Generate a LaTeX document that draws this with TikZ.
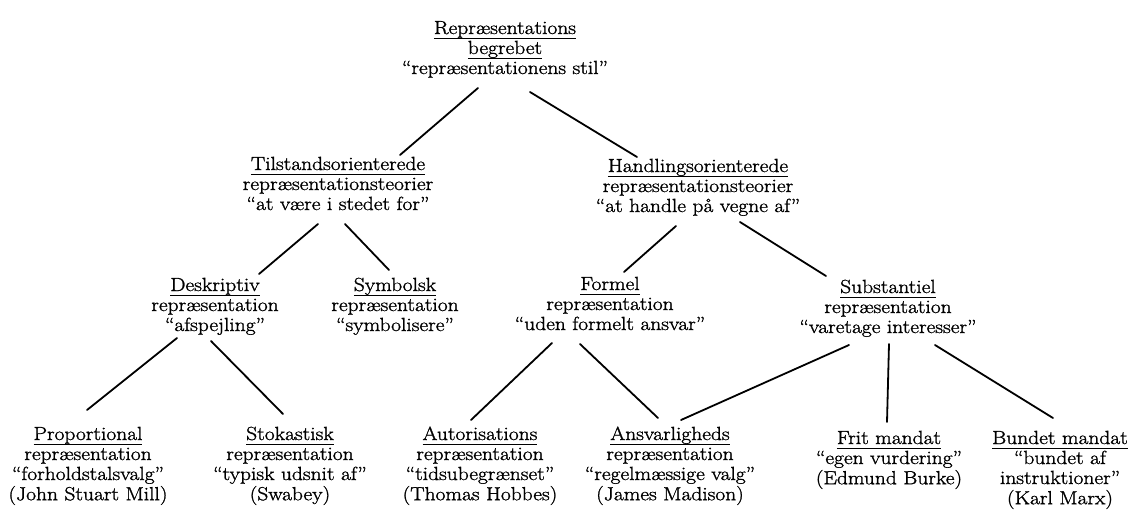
\documentclass[tikz,border=0pt]{standalone}
\usepackage{fontspec}
\setmainfont{Latin Modern Roman}[FakeStretch=1.13, FakeBold=1.3]
\usetikzlibrary{calc}
\newcommand\mytab[1]{\begin{tabular}[t]{@{}c@{}}#1\end{tabular}}
\newcommand\myul[1]{\setbox0=\hbox{#1}\rlap{\rule[-5pt]{\wd0}{1.3pt}}\box0}
\tikzset{
  lbl/.style={anchor=base, inner sep=0pt, font=\fontsize{19}{20}\selectfont},
  conn/.style={line width=1.8pt, line cap=round}
}
\begin{document}
\begin{tikzpicture}[x=1pt,y=-1pt]
\useasboundingbox (0,0) rectangle (1130,509);
\fill[white] (0,0) rectangle (1130,509);

\node[lbl] (top) at (505,34) {\mytab{\myul{Repræsentations}\\ \myul{begrebet}\\ “repræsentationens stil”}};
\node[lbl] (til) at (338,170) {\mytab{\myul{Tilstandsorienterede}\\ repræsentationsteorier\\ “at være i stedet for”}};
\node[lbl] (han) at (698,172) {\mytab{\myul{Handlingsorienterede}\\ repræsentationsteorier\\ “at handle på vegne af”}};
\node[lbl] (des) at (215,291) {\mytab{\myul{Deskriptiv}\\ repræsentation\\ “afspejling”}};
\node[lbl] (sym) at (395,291) {\mytab{\myul{Symbolsk}\\ repræsentation\\ “symbolisere”}};
\node[lbl] (for) at (610,290) {\mytab{\myul{Formel}\\ repræsentation\\ “uden formelt ansvar”}};
\node[lbl] (sub) at (888,293) {\mytab{\myul{Substantiel}\\ repræsentation\\ “varetage interesser”}};
\node[lbl] (pro) at (88,440) {\mytab{\myul{Proportional}\\ repræsentation\\ “forholdstalsvalg”\\ (John Stuart Mill)}};
\node[lbl] (sto) at (290,440) {\mytab{\myul{Stokastisk}\\ repræsentation\\ “typisk udsnit af”\\ (Swabey)}};
\node[lbl] (aut) at (480,440) {\mytab{\myul{Autorisations}\\ repræsentation\\ “tidsubegrænset”\\ (Thomas Hobbes)}};
\node[lbl] (ans) at (670,440) {\mytab{\myul{Ansvarligheds}\\ repræsentation\\ “regelmæssige valg”\\ (James Madison)}};
\node[lbl] (fri) at (889,444) {\mytab{\myul{Frit mandat}\\ “egen vurdering”\\ (Edmund Burke)}};
\node[lbl] (bun) at (1060,444) {\mytab{\myul{Bundet mandat}\\ “bundet af\\ instruktioner”\\ (Karl Marx)}};

\draw[conn] ($(top.base)+(-27,54)$) -- ($(til.base)+(62,-15)$);
\draw[conn] ($(top.base)+(25,58)$) -- ($(han.base)+(-61,-15)$);
\draw[conn] ($(til.base)+(-20,54)$) -- ($(des.base)+(44,-17)$);
\draw[conn] ($(til.base)+(7,54)$) -- ($(sym.base)+(-6,-21)$);
\draw[conn] ($(han.base)+(-22,54)$) -- ($(for.base)+(14,-18)$);
\draw[conn] ($(han.base)+(42,50)$) -- ($(sub.base)+(-62,-17)$);
\draw[conn] ($(des.base)+(-38,47)$) -- ($(pro.base)+(-1,-30)$);
\draw[conn] ($(des.base)+(-4,50)$) -- ($(sto.base)+(-7,-26)$);
\draw[conn] ($(for.base)+(-58,53)$) -- ($(aut.base)+(-9,-20)$);
\draw[conn] ($(for.base)+(-30,54)$) -- ($(ans.base)+(-12,-22)$);
\draw[conn] ($(sub.base)+(-39,52)$) -- ($(ans.base)+(11,-20)$);
\draw[conn] ($(sub.base)+(1,51)$) -- ($(fri.base)+(-2,-22)$);
\draw[conn] ($(sub.base)+(47,52)$) -- ($(bun.base)+(-7,-26)$);
\end{tikzpicture}
\end{document}
